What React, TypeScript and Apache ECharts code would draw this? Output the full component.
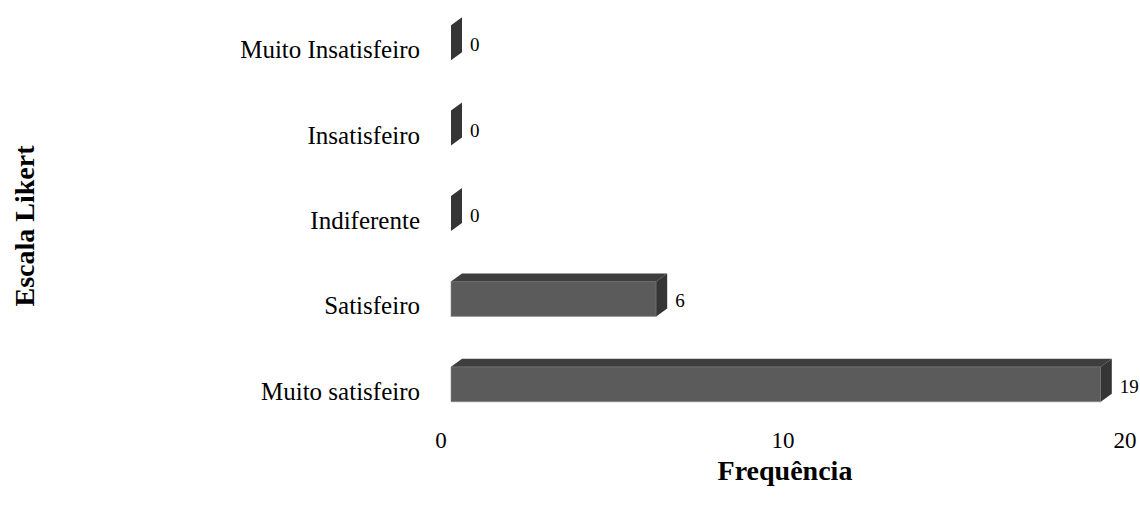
import React, { useEffect, useRef } from "react";
import * as echarts from "echarts";

const categories = ["Muito satisfeiro", "Satisfeiro", "Indiferente", "Insatisfeiro", "Muito Insatisfeiro"];
const frequencies = [19, 6, 0, 0, 0];
const xMin = 0;
const xMax = 20;
const xInterval = 10;
const xTitle = "Frequência";
const yTitle = "Escala Likert";

const SERIF = '"Liberation Serif", "Times New Roman", serif';

export default function App() {
  const ref = useRef<HTMLDivElement>(null);
  useEffect(() => {
    document.body.style.margin = "0";
    if (!ref.current) return;
    const chart = echarts.init(ref.current, null, { renderer: "svg" });
    const data = frequencies.map((v, i) => [v, i]);
    const option: any = {
      animation: false,
      backgroundColor: "#ffffff",
      grid: { left: 451, right: 5, top: -2, height: 429, containLabel: false },
      xAxis: {
        type: "value",
        min: xMin,
        max: xMax,
        interval: xInterval,
        axisLine: { show: false },
        axisTick: { show: false },
        splitLine: { show: false },
        axisLabel: {
          color: "#000",
          fontFamily: SERIF,
          fontSize: 23,
          margin: 2,
          padding: [0, 20, 0, 0],
        },
      },
      yAxis: {
        type: "category",
        data: categories,
        axisLine: { show: false },
        axisTick: { show: false },
        splitLine: { show: false },
        axisLabel: {
          margin: 31,
          formatter: (v: string) => "{c|" + v + "}",
          rich: {
            c: {
              color: "#000",
              fontFamily: SERIF,
              fontSize: 25,
              padding: [14, 0, 0, 0],
            },
          },
        },
      },
      graphic: [
        {
          type: "text",
          x: 785,
          y: 470,
          style: {
            text: xTitle,
            fill: "#000",
            font: 'bold 28px "Liberation Serif", serif',
            align: "center",
            verticalAlign: "middle",
          },
        },
        {
          type: "text",
          x: 24,
          y: 226,
          rotation: Math.PI / 2,
          style: {
            text: yTitle,
            fill: "#000",
            font: 'bold 28px "Liberation Serif", serif',
            align: "center",
            verticalAlign: "middle",
          },
        },
      ],
      series: [
        {
          type: "custom",
          data,
          encode: { x: 0, y: 1 },
          renderItem: (params: any, api: any) => {
            const v = api.value(0);
            const i = api.value(1);
            const p0 = api.coord([0, i]);
            const p1 = api.coord([v, i]);
            const h = 35;
            const dx = 11;
            const dy = 8;
            const x0 = p0[0];
            const x1 = p1[0];
            const yc = p0[1];
            const yT = yc - h / 2;
            const yB = yc + h / 2;
            const children: any[] = [];
            if (x1 - x0 > 0.5) {
              children.push({
                type: "rect",
                shape: { x: x0, y: yT, width: x1 - x0, height: h },
                style: { fill: "#5b5b5b", stroke: "#8c8c8c", lineWidth: 0.6 },
              });
              children.push({
                type: "polygon",
                shape: { points: [[x0, yT], [x0 + dx, yT - dy], [x1 + dx, yT - dy], [x1, yT]] },
                style: { fill: "#3e3e3e" },
              });
            }
            children.push({
              type: "polygon",
              shape: { points: [[x1, yT], [x1 + dx, yT - dy], [x1 + dx, yB - dy], [x1, yB]] },
              style: { fill: "#353535" },
            });
            children.push({
              type: "text",
              x: x1 + dx + 8,
              y: yc + 2,
              style: {
                text: String(v),
                fill: "#000",
                font: '19px "Liberation Serif", serif',
                align: "left",
                verticalAlign: "middle",
              },
            });
            return { type: "group", children };
          },
        },
      ],
    };
    chart.setOption(option);
    return () => chart.dispose();
  }, []);
  return <div ref={ref} style={{ width: 1140, height: 514 }} />;
}
